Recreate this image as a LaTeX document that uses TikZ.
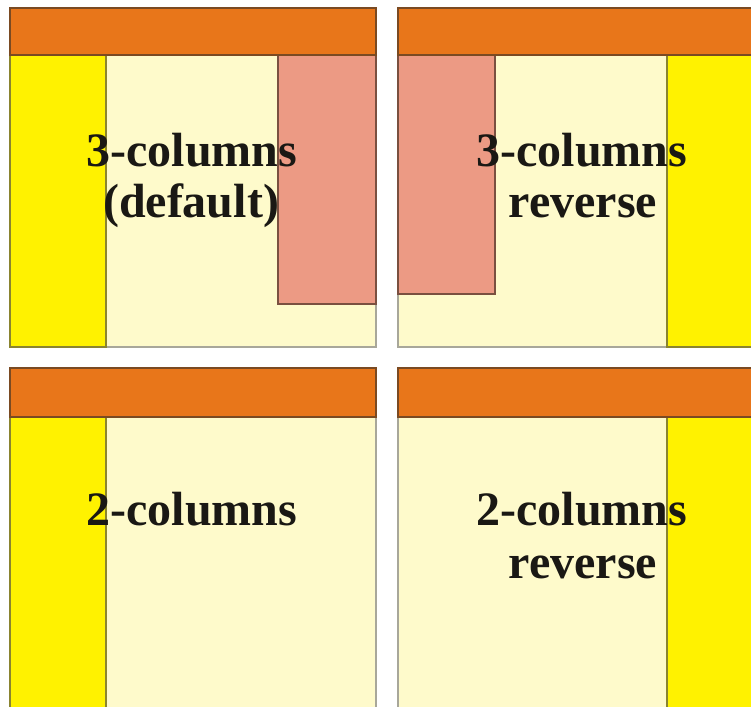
\documentclass[tikz,border=0pt]{standalone}
\usepackage{fontspec}
\setmainfont{Liberation Serif}
\definecolor{hdr}{HTML}{E8761A}
\definecolor{hdrline}{HTML}{7A4A22}
\definecolor{ylw}{HTML}{FFF200}
\definecolor{ylwline}{HTML}{8A8430}
\definecolor{cream}{HTML}{FEFACB}
\definecolor{creamline}{HTML}{A8A79A}
\definecolor{pink}{HTML}{EC9A84}
\definecolor{pinkline}{HTML}{7A5040}
\definecolor{txt}{HTML}{1A1814}
\begin{document}
\begin{tikzpicture}[x=1pt,y=-1pt,
  body/.style={fill=cream,draw=creamline,line width=1.6pt},
  header/.style={fill=hdr,draw=hdrline,line width=1.4pt},
  sidecol/.style={fill=ylw,draw=ylwline,line width=1.4pt},
  sidebox/.style={fill=pink,draw=pinkline,line width=1.4pt},
  label/.style={font=\fontsize{48}{52}\selectfont\bfseries,text=txt,anchor=base,inner sep=0pt}]
\useasboundingbox (0,0) rectangle (751,706);
\begin{scope}
\clip (0,0) rectangle (751,706);
% top-left panel
\draw[body] (10,55) rectangle (376,347);
\draw[sidecol] (10,55) rectangle (106,347);
\draw[sidebox] (278,55) rectangle (376,304);
\draw[header] (10,8) rectangle (376,55);
% top-right panel
\draw[body] (398,55) rectangle (760,347);
\draw[sidecol] (667,55) rectangle (760,347);
\draw[sidebox] (398,55) rectangle (495,294);
\draw[header] (398,8) rectangle (760,55);
% bottom-left panel
\draw[body] (10,417) rectangle (376,720);
\draw[sidecol] (10,417) rectangle (106,720);
\draw[header] (10,368) rectangle (376,417);
% bottom-right panel
\draw[body] (398,417) rectangle (760,720);
\draw[sidecol] (667,417) rectangle (760,720);
\draw[header] (398,368) rectangle (760,417);
\end{scope}
\node[label] (tl1) at (192,166) {3-columns};
\node[label] (tl2) at (191,217) {(default)};
\node[label] (tr1) at (582,166) {3-columns};
\node[label] (tr2) at (583,217) {reverse};
\node[label] (bl1) at (192,525) {2-columns};
\node[label] (br1) at (582,525) {2-columns};
\node[label] (br2) at (583,578) {reverse};
\end{tikzpicture}
\end{document}
